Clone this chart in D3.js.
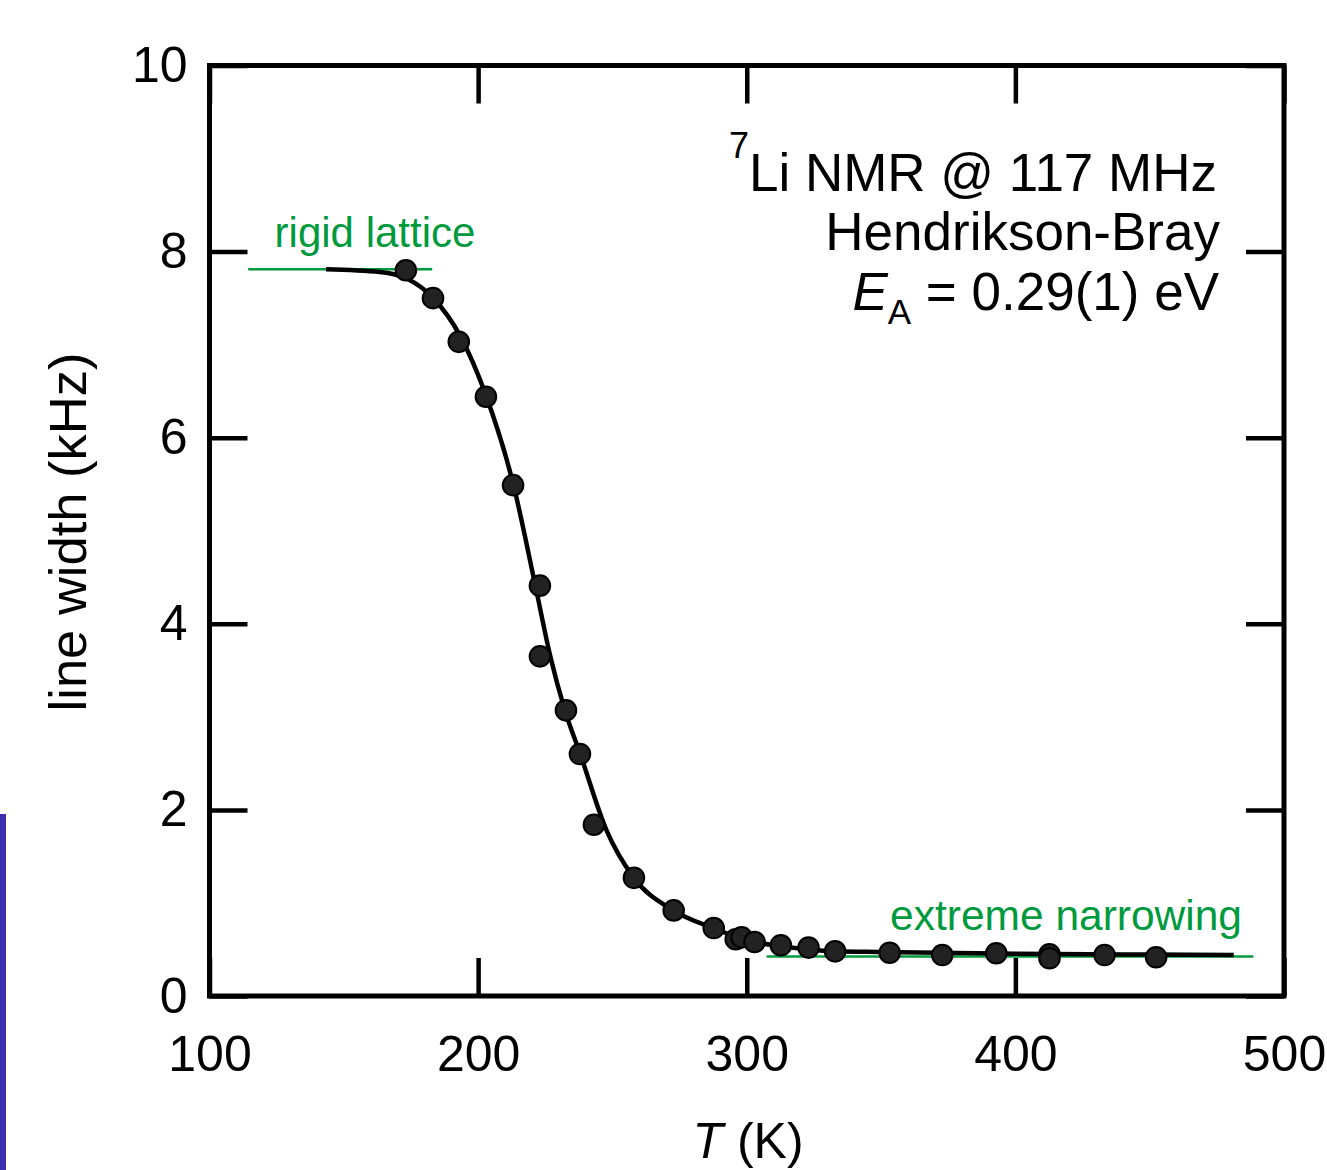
<!DOCTYPE html>
<html>
<head>
<meta charset="utf-8">
<script src="https://cdn.jsdelivr.net/npm/d3@7"></script>
<style>
  body { margin: 0; background: #fff; }
  svg text { font-family: "Liberation Sans", Arial, Helvetica, sans-serif; }
</style>
</head>
<body>
<div id="chart"></div>
<script>
// 1: DATA
// measured line widths: temperature (K) and width (kHz)
const pointT = [173.1, 183.2, 192.8, 202.9, 213.0, 223.0, 223.0, 232.7, 237.9, 243.1,
                258.0, 272.8, 287.7, 295.9, 298.1, 302.9, 312.7, 323.0, 332.9,
                353.2, 372.8, 392.9, 412.7, 412.7, 433.2, 452.4];
const pointW = [7.80, 7.50, 7.03, 6.44, 5.49, 4.41, 3.65, 3.07, 2.60, 1.84,
                1.27, 0.92, 0.73, 0.61, 0.63, 0.58, 0.545, 0.52, 0.48,
                0.465, 0.44, 0.459, 0.448, 0.405, 0.44, 0.416];

// Hendrikson-Bray fit curve
const fitT = [143.4, 163.4, 173.4, 183.3, 193.2, 203.1, 213.0, 221.3, 226.8, 232.3,
              237.9, 247.8, 257.7, 272.6, 287.5, 299.9, 312.3, 333.4, 349.5, 400, 450, 481.3];
const fitW = [7.81, 7.78, 7.71, 7.50, 7.10, 6.44, 5.51, 4.41, 3.66, 3.07,
              2.61, 1.78, 1.28, 0.92, 0.73, 0.60, 0.537, 0.48, 0.473, 0.455, 0.445, 0.44];

// green limit lines
const limitLabels = ["rigid lattice", "extreme narrowing"];
const limitT0 = [114.4, 307.4];
const limitT1 = [182.9, 488.6];
const limitW = [7.81, 0.425];

// axis ticks
const xTicks = [100, 200, 300, 400, 500];
const yTicks = [0, 2, 4, 6, 8, 10];

// 2: SETUP
const margin = { top: 65.5, right: 43, bottom: 174, left: 209.5 };
const width = 1327 - margin.left - margin.right;
const height = 1170 - margin.top - margin.bottom;
const green = "#009a3e";

const root = d3.select("#chart").append("svg")
    .attr("width", 1327)
    .attr("height", 1170);

// blue strip on the left edge of the page
root.append("rect")
    .attr("x", 0).attr("y", 814)
    .attr("width", 6).attr("height", 356)
    .attr("fill", "#3d2fae");

const svg = root.append("g")
    .attr("transform", `translate(${margin.left},${margin.top})`);

// 3: SCALES
const x = d3.scaleLinear().domain([100, 500]).range([0, width]);
const y = d3.scaleLinear().domain([0, 10]).range([height, 0]);

// 4: AXES (ticks point inward)
const tickLen = 38;
function styleAxis(g) {
    g.select(".domain").remove();
    g.selectAll(".tick line").attr("stroke", "#000").attr("stroke-width", 4.5);
    g.selectAll(".tick text").attr("fill", "#000").attr("font-size", "50px")
        .attr("font-family", "'Liberation Sans', Arial, sans-serif");
}

svg.append("g")
    .attr("transform", `translate(0,${height})`)
    .call(d3.axisBottom(x).tickValues(xTicks).tickSizeInner(-tickLen).tickSizeOuter(0).tickPadding(39))
    .call(styleAxis);

svg.append("g")
    .call(d3.axisTop(x).tickValues(xTicks).tickSizeInner(-tickLen).tickSizeOuter(0).tickFormat(""))
    .call(styleAxis);

svg.append("g")
    .call(d3.axisLeft(y).tickValues(yTicks).tickSizeInner(-tickLen).tickSizeOuter(0).tickPadding(22))
    .call(styleAxis);

svg.append("g")
    .attr("transform", `translate(${width},0)`)
    .call(d3.axisRight(y).tickValues(yTicks).tickSizeInner(-tickLen).tickSizeOuter(0).tickFormat(""))
    .call(styleAxis);

// frame
svg.append("rect")
    .attr("width", width)
    .attr("height", height)
    .attr("fill", "none")
    .attr("stroke", "#000")
    .attr("stroke-width", 5);

// 5: LIMIT LINES + LABELS
limitLabels.forEach((label, i) => {
    svg.append("line")
        .attr("x1", x(limitT0[i])).attr("x2", x(limitT1[i]))
        .attr("y1", y(limitW[i])).attr("y2", y(limitW[i]))
        .attr("stroke", green)
        .attr("stroke-width", 2.5);
});

svg.append("text")
    .attr("x", 375 - margin.left)
    .attr("y", 247 - margin.top)
    .attr("text-anchor", "middle")
    .attr("font-size", "42px")
    .attr("fill", green)
    .text(limitLabels[0]);

svg.append("text")
    .attr("x", 1242 - margin.left)
    .attr("y", 930 - margin.top)
    .attr("text-anchor", "end")
    .attr("font-size", "42.5px")
    .attr("fill", green)
    .text(limitLabels[1]);

// 6: FIT CURVE
const fitData = fitT.map((t, i) => ({ t, w: fitW[i] }));
svg.append("path")
    .datum(fitData)
    .attr("fill", "none")
    .attr("stroke", "#000")
    .attr("stroke-width", 4.5)
    .attr("d", d3.line().x(d => x(d.t)).y(d => y(d.w)).curve(d3.curveMonotoneX));

// 7: DATA POINTS
const points = pointT.map((t, i) => ({ t, w: pointW[i] }));
svg.selectAll(".pt")
    .data(points)
    .join("circle")
    .attr("class", "pt")
    .attr("cx", d => x(d.t))
    .attr("cy", d => y(d.w))
    .attr("r", 10.3)
    .attr("fill", "#222")
    .attr("stroke", "#000")
    .attr("stroke-width", 2);

// 8: ANNOTATION (top right)
const note = svg.append("g").attr("font-size", "53px").attr("fill", "#000");

const l1 = note.append("text")
    .attr("x", 1217 - margin.left)
    .attr("y", 191 - margin.top)
    .attr("text-anchor", "end");
l1.append("tspan").attr("font-size", "36px").attr("dy", -33).text("7");
l1.append("tspan").attr("dy", 33).attr("xml:space", "preserve").text("Li NMR @ 117 MHz");

note.append("text")
    .attr("x", 1220 - margin.left)
    .attr("y", 250 - margin.top)
    .attr("text-anchor", "end")
    .text("Hendrikson-Bray");

const l3 = note.append("text")
    .attr("x", 1219 - margin.left)
    .attr("y", 310 - margin.top)
    .attr("text-anchor", "end");
l3.append("tspan").attr("font-style", "italic").text("E");
l3.append("tspan").attr("font-size", "35px").attr("dy", 14).text("A");
l3.append("tspan").attr("dy", -14).text(" = 0.29(1) eV");

// 9: AXIS LABELS
const xLab = svg.append("text")
    .attr("x", 748 - margin.left)
    .attr("y", 1158 - margin.top)
    .attr("text-anchor", "middle")
    .attr("font-size", "50px");
xLab.append("tspan").attr("font-style", "italic").text("T");
xLab.append("tspan").text(" (K)");

svg.append("text")
    .attr("transform", `translate(${86 - margin.left},${532 - margin.top}) rotate(-90)`)
    .attr("text-anchor", "middle")
    .attr("font-size", "52.5px")
    .text("line width (kHz)");
</script>
</body>
</html>
